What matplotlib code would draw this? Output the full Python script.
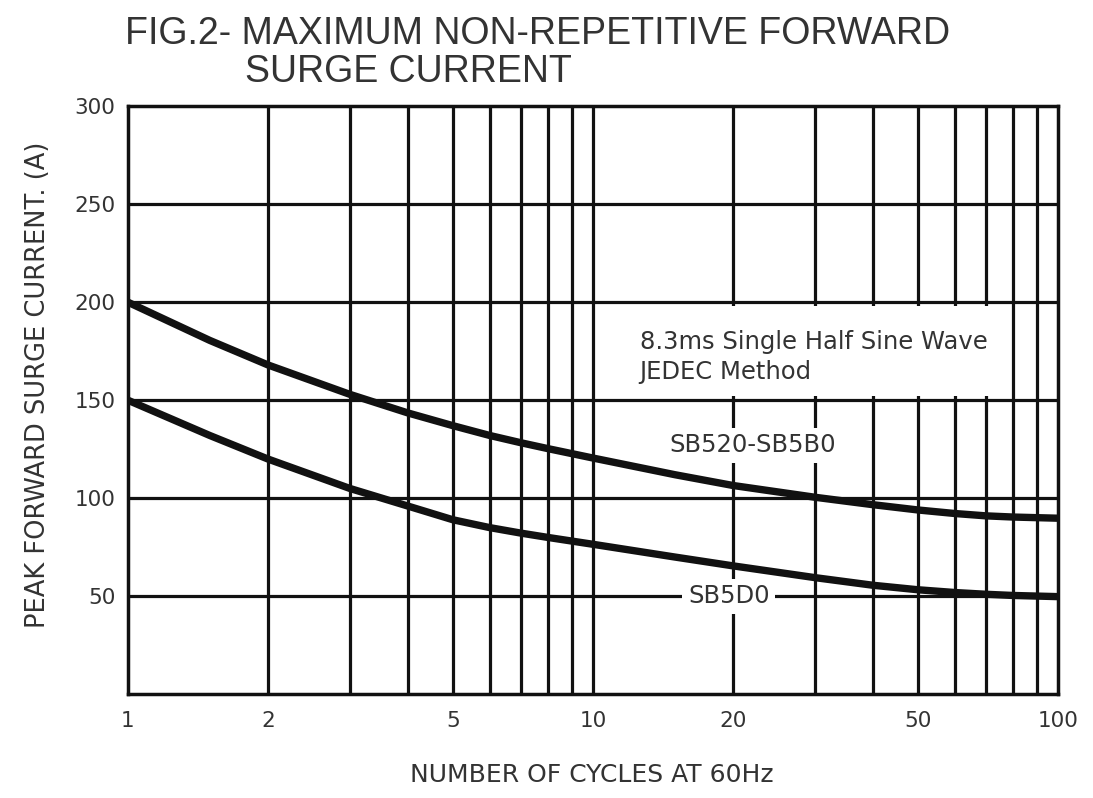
import numpy as np
import matplotlib
matplotlib.use('Agg')
import matplotlib.pyplot as plt
from matplotlib.patches import Rectangle

# Data
cycles = [1, 1.5, 2, 3, 4, 5, 6, 7, 8, 10, 15, 20, 30, 40, 50, 60, 70, 80, 100]
sb520_sb5b0 = [200, 180.5, 168, 153, 143.5, 137, 132, 128.3, 125.3, 120.5, 112, 106.5,
               100.5, 96.7, 94, 92.2, 91, 90.4, 89.8]
sb5d0 = [150, 132, 120, 105, 96, 89, 85, 82.2, 80, 76.5, 70, 65.5, 59.5, 55.6, 53.3,
         51.9, 51, 50.4, 49.8]

x_ticks = [1, 2, 5, 10, 20, 50, 100]
y_ticks = [50, 100, 150, 200, 250, 300]
x_grid = [2, 3, 4, 5, 6, 7, 8, 9, 10, 20, 30, 40, 50, 60, 70, 80, 90]
y_grid = [50, 100, 150, 200, 250]

plt.rcParams['font.family'] = ['DejaVu Sans']
TXT = '#333333'
INK = '#111111'

fig = plt.figure(figsize=(10.93, 7.98), dpi=100)
ax = fig.add_axes([0.117, 0.130, 0.851, 0.737])
ax.set_xscale('log')
ax.set_xlim(1, 100)
ax.set_ylim(0, 300)

# Grid manual (tebal, hitam)
for gx in x_grid:
    ax.axvline(gx, color=INK, linewidth=2.3, zorder=1)
for gy in y_grid:
    ax.axhline(gy, color=INK, linewidth=2.3, zorder=1)

# Kotak putih di belakang keterangan
ax.add_patch(Rectangle((10.25, 152), 78.5 - 10.25, 46, facecolor='white',
                       edgecolor='none', zorder=2))

# Kurva
ax.plot(cycles, sb520_sb5b0, color=INK, linewidth=5.3, zorder=3, solid_capstyle='butt')
ax.plot(cycles, sb5d0, color=INK, linewidth=5.3, zorder=3, solid_capstyle='butt')

ax.text(12.6, 172, '8.3ms Single Half Sine Wave\nJEDEC Method', fontsize=17.5,
        color=TXT, ha='left', va='center', linespacing=1.3, zorder=4)
ax.text(22, 127, 'SB520-SB5B0', fontsize=17.5, color=TXT, ha='center', va='center',
        zorder=4, bbox=dict(facecolor='white', edgecolor='none', pad=4))
ax.text(19.6, 50, 'SB5D0', fontsize=17.5, color=TXT, ha='center', va='center',
        zorder=4, bbox=dict(facecolor='white', edgecolor='none', pad=4))

for s in ax.spines.values():
    s.set_linewidth(2.5)
    s.set_color(INK)
    s.set_zorder(5)

ax.set_xticks(x_ticks)
ax.set_xticklabels([str(t) for t in x_ticks])
ax.xaxis.set_minor_locator(matplotlib.ticker.NullLocator())
ax.set_yticks(y_ticks)
ax.tick_params(length=0, labelsize=15.5, labelcolor=TXT)
ax.tick_params(axis='x', pad=12)
ax.tick_params(axis='y', pad=9)

ax.set_xlabel('NUMBER OF CYCLES AT 60Hz', fontsize=18, color=TXT)
ax.xaxis.set_label_coords(0.499, -0.138)
ax.xaxis.label.set_va('center')
ax.set_ylabel('PEAK FORWARD SURGE CURRENT. (A)', fontsize=18.5, color=TXT)
ax.yaxis.set_label_coords(-0.097, 0.526)
ax.yaxis.label.set_va('center')

fig.text(0.114, 0.957, 'FIG.2- MAXIMUM NON-REPETITIVE FORWARD', fontsize=27,
         color=TXT, ha='left', va='center', family='Liberation Sans')
fig.text(0.224, 0.910, 'SURGE CURRENT', fontsize=27, color=TXT, ha='left',
         va='center', family='Liberation Sans')

plt.savefig('out.png', dpi=100)
plt.close()
